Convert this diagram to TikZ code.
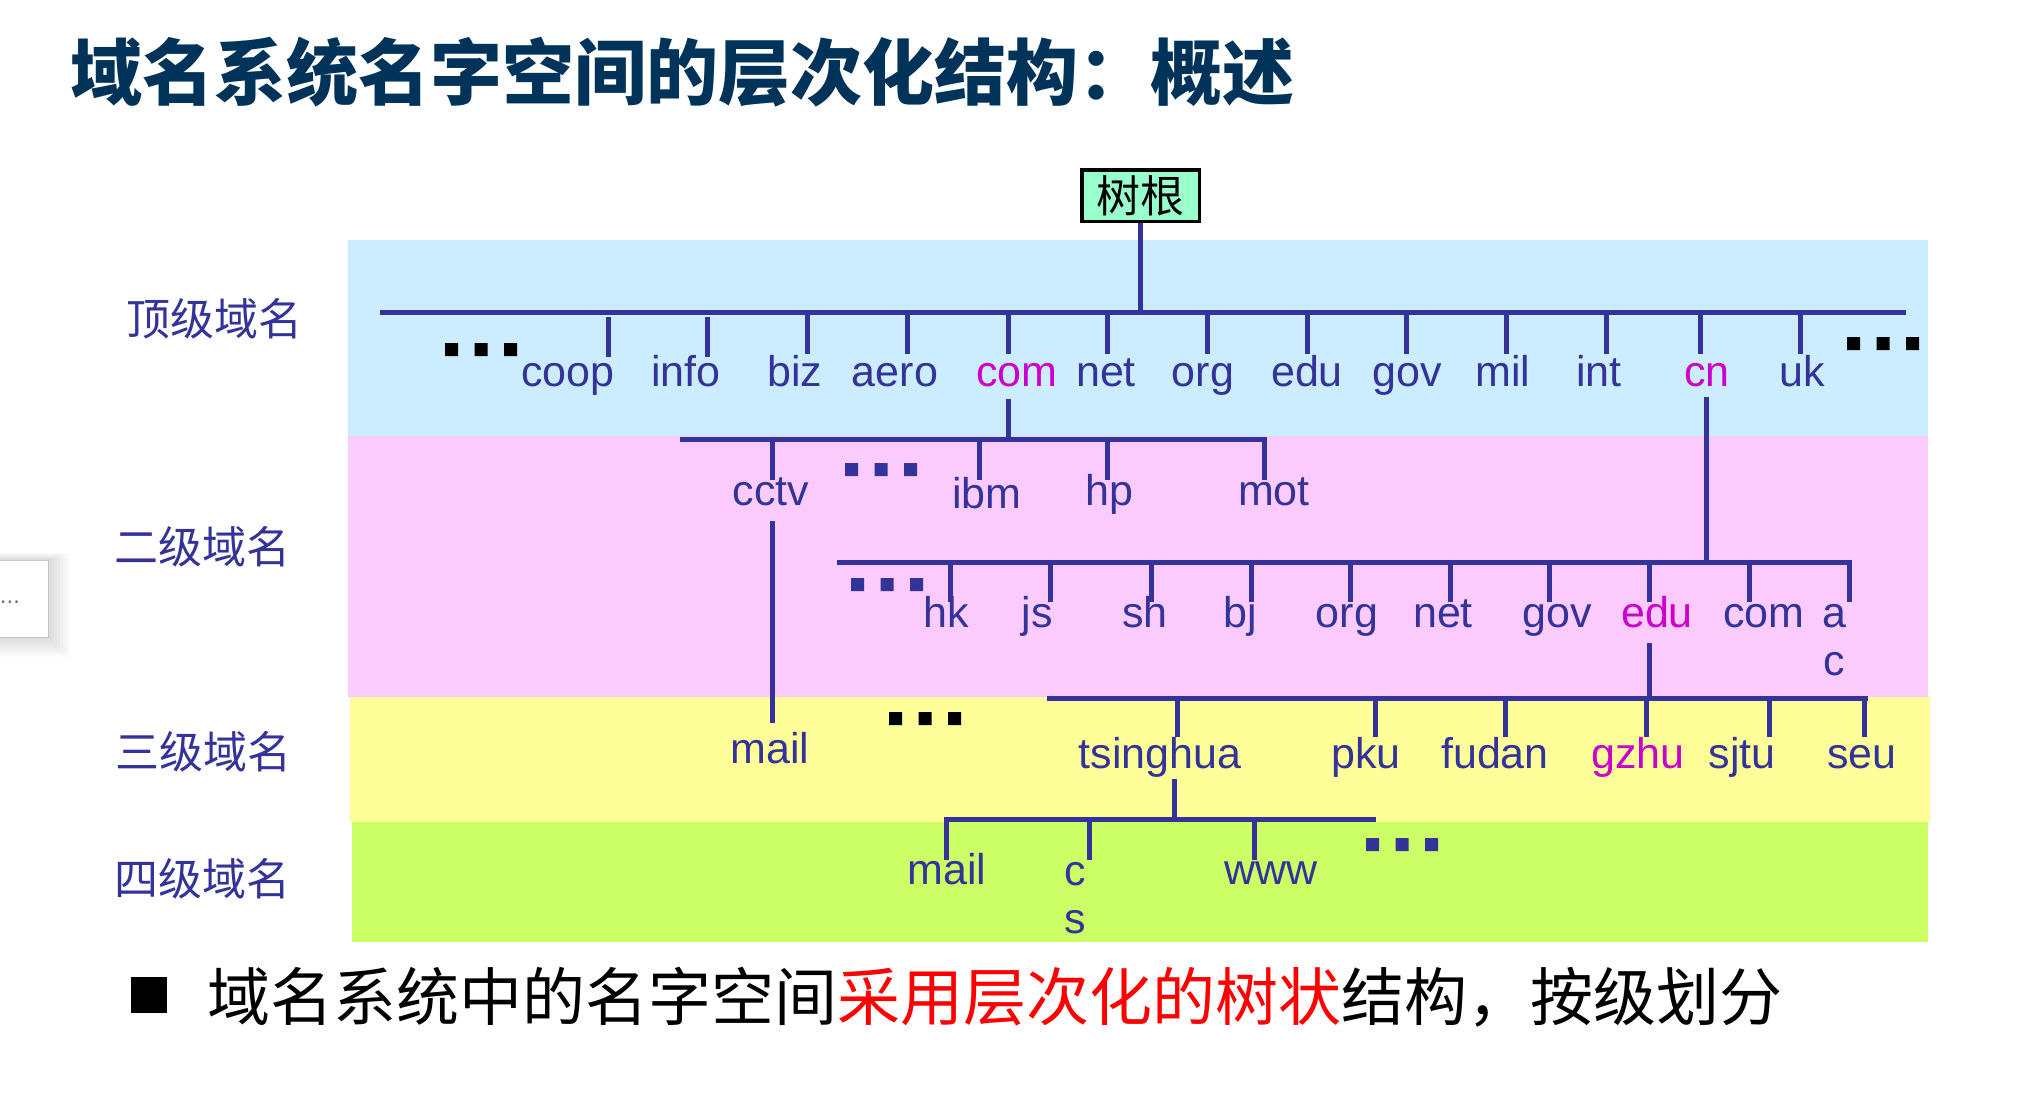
\documentclass[tikz,border=0pt]{standalone}
\usepackage{fontspec}
\setmainfont{Liberation Sans}
\newfontfamily\cjk{Noto Sans CJK SC}
\definecolor{linkblue}{HTML}{333399}
\definecolor{hilite}{HTML}{CC00CC}
\definecolor{titleblue}{HTML}{003359}
\definecolor{bandone}{HTML}{CCECFF}
\definecolor{bandtwo}{HTML}{FCCBFE}
\definecolor{bandthree}{HTML}{FFFF99}
\definecolor{bandfour}{HTML}{CCFF66}
\definecolor{rootfill}{HTML}{99FFCC}

\tikzset{
  bus/.style={draw=linkblue, line width=5pt},
  lbl/.style={anchor=base, inner sep=0pt, text=linkblue, font=\fontsize{43}{48}\selectfont},
  lvl/.style={anchor=center, inner sep=0pt, text=linkblue, font=\cjk\fontsize{44}{50}\selectfont},
  ellip/.pic={\fill[pic actions] (0,0) rectangle (13,13) (29.5,0) rectangle (42.5,13) (59,0) rectangle (72,13);},
}

\begin{document}
\begin{tikzpicture}[x=1pt,y=-1pt]
\useasboundingbox (0,0) rectangle (2038,1098);
\fill[white] (0,0) rectangle (2038,1098);

% level bands
\fill[bandone]   (348,240) rectangle (1928,436);
\fill[bandtwo]   (348,436) rectangle (1928,697);
\fill[bandthree] (350,697) rectangle (1930,822);
\fill[bandfour]  (352,822) rectangle (1928,942);

% heading
\node[anchor=west, inner sep=0pt, text=titleblue, font=\cjk\bfseries\fontsize{72}{80}\selectfont]
  (title) at (70,72) {域名系统名字空间的层次化结构：概述};

% level captions
\node[lvl] (cap1) at (214,319) {顶级域名};
\node[lvl] (cap2) at (202,547) {二级域名};
\node[lvl] (cap3) at (203,752) {三级域名};
\node[lvl] (cap4) at (202,879) {四级域名};

% small side widget with soft shadow
\foreach \s in {2,5,...,20}
  \fill[black, opacity=0.018] (-3,560-\s/3) rectangle (49+\s,637+\s);
\node[draw=black!22, line width=1pt, fill=white, minimum width=51, minimum height=77, inner sep=0pt, anchor=north west]
  (widget) at (-3,560) {};
\node[text=black!55, inner sep=0pt, font=\fontsize{24}{24}\selectfont] (widgetdots) at (10,602) {...};

% root
\node[draw=black, line width=3.5pt, fill=rootfill, minimum width=117.5, minimum height=51.5, inner sep=0pt,
      font=\cjk\fontsize{44}{44}\selectfont] (root) at (1140.5,195.5) {树根};

% top-level bus
\coordinate (b1L) at (380,312);
\coordinate (b1R) at (1906,312);
\draw[bus] (b1L) -- (b1R);
\draw[bus] (root.south) -- (root.south |- b1L);

\foreach \nm/\tx/\ty/\tz/\lx/\cl in {
  coop/608/317/357/568/linkblue, info/707/317/357/686/linkblue,
  biz/807/312/354/795/linkblue, aero/907/312/354/895/linkblue,
  com/1008/312/354/1017/hilite, net/1107/312/354/1106/linkblue,
  org/1207/312/354/1203/linkblue, edu/1307/312/354/1307/linkblue,
  gov/1406/312/354/1407/linkblue, mil/1506/312/354/1503/linkblue,
  int/1606/312/354/1599/linkblue, cn/1700/312/354/1707/hilite,
  uk/1800/312/354/1802/linkblue}{
  \coordinate (t1-\nm-top) at (\tx,\ty);
  \coordinate (t1-\nm-end) at (\tx,\tz);
  \draw[bus] (t1-\nm-top) -- (t1-\nm-end);
  \node[lbl, text=\cl] (d1-\nm) at (\lx,386) {\nm};
}
\pic[fill=black] (dotsA) at (445,343) {ellip};
\pic[fill=black] (dotsB) at (1847,337) {ellip};

% second level under com
\coordinate (s2a-top) at (1008,399);
\coordinate (s2a-bot) at (1008,439);
\draw[bus] (s2a-top) -- (s2a-bot);
\coordinate (b2aL) at (680,439);
\coordinate (b2aR) at (1267,439);
\draw[bus] (b2aL) -- (b2aR);
\foreach \nm/\tx/\lx/\ly in {cctv/772/771/505, ibm/979/987/508, hp/1107/1109/505, mot/1264/1274/505}{
  \coordinate (t2a-\nm-top) at (\tx,439);
  \coordinate (t2a-\nm-end) at (\tx,480);
  \draw[bus] (t2a-\nm-top) -- (t2a-\nm-end);
  \node[lbl] (d2a-\nm) at (\lx,\ly) {\nm};
}
\pic[fill=linkblue] (dotsC) at (845,463) {ellip};

% cctv -> mail
\coordinate (s3a-top) at (772,521);
\coordinate (s3a-bot) at (772,723);
\draw[bus] (s3a-top) -- (s3a-bot);
\node[lbl] (d3-mail) at (770,763) {mail};

% second level under cn
\coordinate (s2b-top) at (1706,397);
\coordinate (s2b-bot) at (1706,562);
\draw[bus] (s2b-top) -- (s2b-bot);
\coordinate (b2bL) at (837,562);
\coordinate (b2bR) at (1851.5,562);
\draw[bus] (b2bL) -- (b2bR);
\foreach \nm/\tx/\lx/\cl in {hk/950/946/linkblue, js/1050/1037/linkblue, sh/1151/1145/linkblue,
  bj/1251/1240/linkblue, org/1350/1347/linkblue, net/1450/1443/linkblue, gov/1549/1557/linkblue,
  edu/1649/1657/hilite, com/1749/1764/linkblue}{
  \coordinate (t2b-\nm-top) at (\tx,562);
  \coordinate (t2b-\nm-end) at (\tx,602);
  \draw[bus] (t2b-\nm-top) -- (t2b-\nm-end);
  \node[lbl, text=\cl] (d2b-\nm) at (\lx,627) {\nm};
}
\coordinate (t2b-ac-top) at (1849,562);
\coordinate (t2b-ac-end) at (1849,602);
\draw[bus] (t2b-ac-top) -- (t2b-ac-end);
% two-line label: the base anchor sits on the last line
\node[lbl, align=center] (d2b-ac) at (1834,675) {a\\c};
\pic[fill=linkblue] (dotsD) at (851,578) {ellip};

% third level under edu
\coordinate (s3b-top) at (1649,643);
\coordinate (s3b-bot) at (1649,698);
\draw[bus] (s3b-top) -- (s3b-bot);
\coordinate (b3L) at (1047,698);
\coordinate (b3R) at (1868,698);
\draw[bus] (b3L) -- (b3R);
\foreach \nm/\tx/\lx/\cl in {tsinghua/1177/1160/linkblue, pku/1375/1366/linkblue, fudan/1505/1495/linkblue,
  gzhu/1646/1638/hilite, sjtu/1769/1742/linkblue, seu/1864/1862/linkblue}{
  \coordinate (t3-\nm-top) at (\tx,698);
  \coordinate (t3-\nm-end) at (\tx,737);
  \draw[bus] (t3-\nm-top) -- (t3-\nm-end);
  \node[lbl, text=\cl] (d3-\nm) at (\lx,768) {\nm};
}
\pic[fill=black] (dotsE) at (889,712) {ellip};

% fourth level under tsinghua
\coordinate (s4-top) at (1174,779);
\coordinate (s4-bot) at (1174,819);
\draw[bus] (s4-top) -- (s4-bot);
\coordinate (b4L) at (943.5,819);
\coordinate (b4R) at (1376,819);
\draw[bus] (b4L) -- (b4R);
\foreach \nm/\tx in {mail/946, cs/1089, www/1254}{
  \coordinate (t4-\nm-top) at (\tx,819);
  \coordinate (t4-\nm-end) at (\tx,860);
  \draw[bus] (t4-\nm-top) -- (t4-\nm-end);
}
\node[lbl] (d4-mail) at (947,884) {mail};
\node[lbl, align=center] (d4-cs) at (1075,933) {c\\s};
\node[lbl] (d4-www) at (1271,884) {www};
\pic[fill=linkblue] (dotsF) at (1366,838) {ellip};

% summary line
\node[fill=black, minimum width=36, minimum height=36, inner sep=0pt, anchor=north west] (bullet) at (131,977) {};
\node[anchor=west, inner sep=0pt, font=\cjk\fontsize{63}{70}\selectfont] (summary) at (207,997)
  {域名系统中的名字空间\textcolor{red}{采用层次化的树状}结构，按级划分};
\end{tikzpicture}
\end{document}
